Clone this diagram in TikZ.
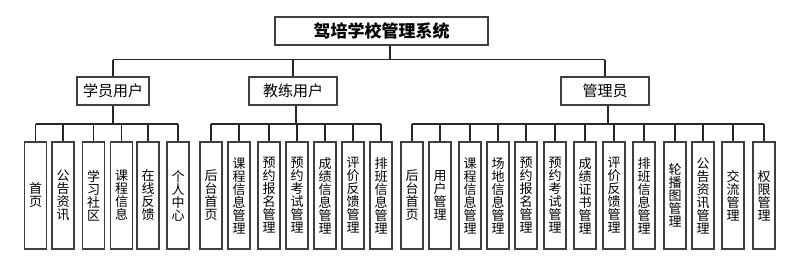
\documentclass[tikz,border=0pt]{standalone}
\usepackage{fontspec}
\setmainfont{Noto Sans CJK SC}
\begin{document}
\begin{tikzpicture}[x=1pt,y=-1pt,
  box/.style={draw=black!75,line width=1.3pt,fill=white,inner sep=0pt},
  rootbox/.style={box,minimum width=213pt,minimum height=28pt,font=\fontsize{17}{19}\selectfont\bfseries},
  midbox/.style={box,minimum height=28pt,font=\fontsize{15}{17}\selectfont},
  leaf/.style={box,minimum width=22pt,minimum height=107pt,align=center,font=\fontsize{13}{13}\selectfont},
  conn/.style={draw=black!85,line width=1.2pt}]
\useasboundingbox (0,0) rectangle (812,277);
\node[rootbox] (root) at (381.5,31) {驾培学校管理系统};
\node[midbox,minimum width=72pt] (stu) at (113,91) {学员用户};
\node[midbox,minimum width=88pt] (coa) at (293,91) {教练用户};
\node[midbox,minimum width=88pt] (adm) at (605,91) {管理员};
% leaves
\foreach \i/\x/\t in {1/35.5/{首\\页},2/63/{公\\告\\资\\讯},3/93.5/{学\\习\\社\\区},4/121.5/{课\\程\\信\\息},5/148/{在\\线\\反\\馈},6/178/{个\\人\\中\\心}}
  \node[leaf] (s\i) at (\x,195.5) {\t};
\foreach \i/\x/\t in {1/211/{后\\台\\首\\页},2/239/{课\\程\\信\\息\\管\\理},3/269/{预\\约\\报\\名\\管\\理},4/297/{预\\约\\考\\试\\管\\理},5/325/{成\\绩\\信\\息\\管\\理},6/353/{评\\价\\反\\馈\\管\\理},7/381/{排\\班\\信\\息\\管\\理}}
  \node[leaf] (c\i) at (\x,195.5) {\t};
\foreach \i/\x/\t in {1/412/{后\\台\\首\\页},2/440/{用\\户\\管\\理},3/470/{课\\程\\信\\息\\管\\理},4/498/{场\\地\\信\\息\\管\\理},5/526/{预\\约\\报\\名\\管\\理},6/555/{预\\约\\考\\试\\管\\理},7/585/{成\\绩\\证\\书\\管\\理},8/614/{评\\价\\反\\馈\\管\\理},9/644/{排\\班\\信\\息\\管\\理},10/675/{轮\\播\\图\\管\\理},11/703/{公\\告\\资\\讯\\管\\理},12/733/{交\\流\\管\\理},13/764/{权\\限\\管\\理}}
  \node[leaf] (a\i) at (\x,195.5) {\t};
% root connectors
\coordinate (rbar) at (390,59.5);
\draw[conn] ([xshift=8.5pt]root.south) -- (rbar);
\draw[conn] (rbar -| stu.north) -- (rbar -| adm.north);
\foreach \n in {stu,coa,adm} \draw[conn] (rbar -| \n.north) -- (\n.north);
% student
\coordinate (sbar) at (112,124);
\draw[conn] (stu.south) -- (sbar -| stu.south);
\draw[conn] (sbar -| s1.north) -- (sbar -| s6.north);
\foreach \i in {1,...,6} \draw[conn] (sbar -| s\i.north) -- (s\i.north);
% coach
\coordinate (cbar) at (296,124);
\draw[conn] ([xshift=3pt]coa.south) -- (cbar);
\draw[conn] (cbar -| c1.north) -- (cbar -| c7.north);
\foreach \i in {1,...,7} \draw[conn] (cbar -| c\i.north) -- (c\i.north);
% admin
\coordinate (abar) at (608,124);
\draw[conn] ([xshift=3pt]adm.south) -- (abar);
\draw[conn] (abar -| a1.north) -- (abar -| a13.north);
\foreach \i in {1,...,13} \draw[conn] (abar -| a\i.north) -- (a\i.north);
\end{tikzpicture}
\end{document}
